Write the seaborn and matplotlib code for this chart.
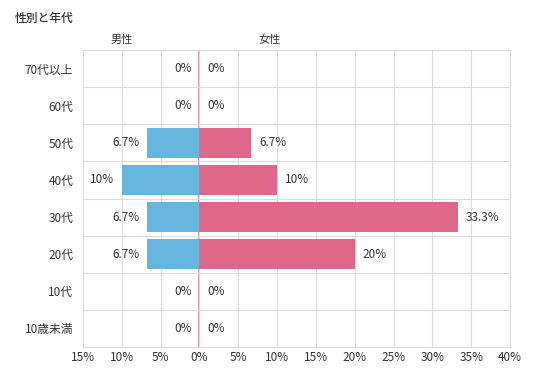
import matplotlib
matplotlib.use("Agg")
import matplotlib.pyplot as plt
import seaborn as sns
import numpy as np
import pandas as pd

# data
ages = ["70代以上", "60代", "50代", "40代", "30代", "20代", "10代", "10歳未満"]
male = [0, 0, 6.7, 10, 6.7, 6.7, 0, 0]
female = [0, 0, 6.7, 10, 33.3, 20, 0, 0]
x_ticks = [-15, -10, -5, 0, 5, 10, 15, 20, 25, 30, 35, 40]

sns.set_theme(style="white")
plt.rcParams["font.family"] = ["Noto Sans CJK JP", "DejaVu Sans"]

BLUE = "#66b5dd"
PINK = "#df6789"
GRID = "#dcdcdc"
TXT = "#333333"

df = pd.DataFrame({"age": ages, "male": [-v for v in male], "female": female})

fig = plt.figure(figsize=(5.36, 3.68), dpi=100)
ax = fig.add_axes([83 / 536, 1 - 347 / 368, 427 / 536, 297 / 368])

sns.barplot(data=df, y="age", x="male", color=BLUE, orient="h", width=0.8,
            saturation=1, linewidth=0, ax=ax, zorder=3)
sns.barplot(data=df, y="age", x="female", color=PINK, orient="h", width=0.8,
            saturation=1, linewidth=0, ax=ax, zorder=3)

# zero line (female 0% bars show as a thin pink line)
ax.axvline(0, color="#d9819f", lw=1.2, zorder=0.4)

ax.set_xlim(-15, 40)
ax.set_ylim(len(ages) - 0.5, -0.5)
ax.set_xticks(x_ticks)
ax.set_xticklabels([f"{abs(t)}%" for t in x_ticks], fontsize=8.5, color=TXT)
ax.set_yticks(range(len(ages)))
ax.set_yticklabels(ages, fontsize=8.5, color=TXT)
ax.set_yticks(np.arange(-0.5, len(ages), 1), minor=True)
ax.tick_params(axis="both", which="both", length=0)
ax.tick_params(axis="y", pad=7)
ax.tick_params(axis="x", pad=3)
ax.grid(axis="x", which="major", color=GRID, lw=0.8, zorder=0)
ax.grid(axis="y", which="minor", color=GRID, lw=0.8, zorder=0)
ax.set_axisbelow(True)
for s in ax.spines.values():
    s.set_color(GRID)
    s.set_linewidth(0.8)
ax.set_xlabel("")
ax.set_ylabel("")

def fmt(v):
    return f"{v:g}%"

for i, (m, f) in enumerate(zip(male, female)):
    ax.text(-m - 1.0, i, fmt(m), ha="right", va="center", fontsize=8.5, color=TXT)
    ax.text(f + 1.0, i, fmt(f), ha="left", va="center", fontsize=8.5, color=TXT)

fig.text(15 / 536, 1 - 18 / 368, "性別と年代", fontsize=8.5, color=TXT,
         ha="left", va="center", fontweight="medium")
fig.text(122 / 536, 1 - 40 / 368, "男性", fontsize=8, color=TXT, ha="center", va="center")
fig.text(270 / 536, 1 - 40 / 368, "女性", fontsize=8, color=TXT, ha="center", va="center")

fig.savefig("out.png", dpi=100)
